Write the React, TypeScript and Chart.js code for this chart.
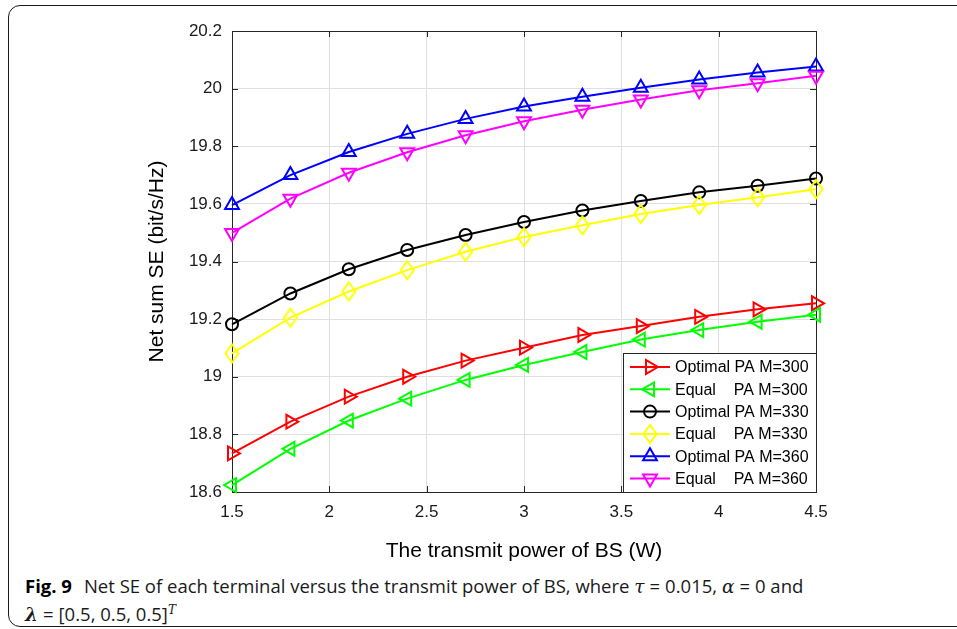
import React, { useEffect, useRef } from 'react';
import { Chart, registerables } from 'chart.js';
import { drawPoint } from 'chart.js/helpers';

Chart.register(...registerables);

// ---- data ----
const powerW = [1.5, 1.8, 2.1, 2.4, 2.7, 3.0, 3.3, 3.6, 3.9, 4.2, 4.5];
const optimalM300 = [18.734, 18.844, 18.931, 19.0, 19.056, 19.101, 19.145, 19.176, 19.208, 19.234, 19.255];
const equalM300 = [18.624, 18.75, 18.848, 18.924, 18.989, 19.041, 19.086, 19.129, 19.162, 19.191, 19.215];
const optimalM330 = [19.182, 19.289, 19.373, 19.44, 19.492, 19.537, 19.577, 19.61, 19.64, 19.663, 19.688];
const equalM330 = [19.081, 19.205, 19.296, 19.37, 19.434, 19.485, 19.526, 19.565, 19.596, 19.623, 19.651];
const optimalM360 = [19.596, 19.7, 19.78, 19.843, 19.895, 19.938, 19.972, 20.003, 20.032, 20.056, 20.077];
const equalM360 = [19.499, 19.618, 19.708, 19.779, 19.838, 19.887, 19.927, 19.962, 19.994, 20.019, 20.045];

const seriesLabels = [
  'Optimal PA M=300',
  'Equal    PA M=300',
  'Optimal PA M=330',
  'Equal    PA M=330',
  'Optimal PA M=360',
  'Equal    PA M=360',
];
const xTickValues = [1.5, 2, 2.5, 3, 3.5, 4, 4.5];
const xTickLabels = ['1.5', '2', '2.5', '3', '3.5', '4', '4.5'];
const yTickValues = [18.6, 18.8, 19, 19.2, 19.4, 19.6, 19.8, 20, 20.2];
const yTickLabels = ['18.6', '18.8', '19', '19.2', '19.4', '19.6', '19.8', '20', '20.2'];
const xTitle = 'The transmit power of BS (W)';
const yTitle = 'Net sum SE (bit/s/Hz)';

// ---- styles ----
const seriesValues = [optimalM300, equalM300, optimalM330, equalM330, optimalM360, equalM360];
const seriesColors = ['#ff0000', '#00ff00', '#000000', '#ffff00', '#0000ff', '#ff00ff'];

function makeDiamond(color: string): HTMLCanvasElement {
  const c = document.createElement('canvas');
  c.width = 18;
  c.height = 22;
  const g = c.getContext('2d')!;
  g.strokeStyle = color;
  g.lineWidth = 2;
  g.beginPath();
  g.moveTo(9, 2);
  g.lineTo(15.5, 11);
  g.lineTo(9, 20);
  g.lineTo(2.5, 11);
  g.closePath();
  g.stroke();
  return c;
}

const seriesMarkers: { style: any; rotation: number; radius: number }[] = [
  { style: 'triangle', rotation: 90, radius: 8 },
  { style: 'triangle', rotation: -90, radius: 8 },
  { style: 'circle', rotation: 0, radius: 6 },
  { style: 'diamond', rotation: 0, radius: 7 },
  { style: 'triangle', rotation: 0, radius: 8 },
  { style: 'triangle', rotation: 180, radius: 8 },
];

const AXIS_COLOR = '#262626';
const FONT = '"Liberation Sans", Arial, Helvetica, sans-serif';

const matlabAxes = {
  id: 'matlabAxes',
  beforeDatasetsDraw(chart: any) {
    const { ctx, chartArea: a, scales } = chart;
    const x = scales.x;
    const y = scales.y;
    const tl = 6;
    ctx.save();
    ctx.strokeStyle = AXIS_COLOR;
    ctx.lineWidth = 1;
    ctx.beginPath();
    for (const v of xTickValues) {
      const px = Math.round(x.getPixelForValue(v)) + 0.5;
      ctx.moveTo(px, a.bottom);
      ctx.lineTo(px, a.bottom - tl);
      ctx.moveTo(px, a.top);
      ctx.lineTo(px, a.top + tl);
    }
    for (const v of yTickValues) {
      const py = Math.round(y.getPixelForValue(v)) + 0.5;
      ctx.moveTo(a.left, py);
      ctx.lineTo(a.left + tl, py);
      ctx.moveTo(a.right, py);
      ctx.lineTo(a.right - tl, py);
    }
    ctx.stroke();
    ctx.strokeRect(Math.round(a.left) + 0.5, Math.round(a.top) + 0.5, Math.round(a.right - a.left), Math.round(a.bottom - a.top));
    ctx.restore();
  },
  afterDatasetsDraw(chart: any) {
    const { ctx, chartArea: a } = chart;
    const w = 193;
    const h = 139;
    const bx = Math.round(a.right) - w;
    const by = Math.round(a.bottom) - h;
    ctx.save();
    ctx.fillStyle = '#ffffff';
    ctx.fillRect(bx, by, w, h);
    ctx.strokeStyle = AXIS_COLOR;
    ctx.lineWidth = 1;
    ctx.strokeRect(bx + 0.5, by + 0.5, w, h);
    chart.data.datasets.forEach((ds: any, i: number) => {
      const cy = by + 14 + i * 22.3;
      ctx.strokeStyle = ds.borderColor;
      ctx.lineWidth = 2;
      ctx.beginPath();
      ctx.moveTo(bx + 7, cy);
      ctx.lineTo(bx + 47, cy);
      ctx.stroke();
      ctx.fillStyle = 'rgba(0,0,0,0)';
      drawPoint(ctx, {
        pointStyle: ds.pointStyle,
        rotation: ds.pointRotation,
        radius: ds.pointRadius,
        borderWidth: 2,
      } as any, bx + 27, cy);
      ctx.fillStyle = '#000000';
      ctx.font = '16px ' + FONT;
      ctx.textBaseline = 'middle';
      ctx.textAlign = 'left';
      ctx.fillText(ds.label, bx + 52, cy + 1);
    });
    ctx.restore();
  },
};

function ChartCanvas() {
  const ref = useRef<HTMLCanvasElement | null>(null);
  useEffect(() => {
    if (!ref.current) return;
    const datasets = seriesValues.map((vals, i) => ({
      label: seriesLabels[i],
      data: powerW.map((p, j) => ({ x: p, y: vals[j] })),
      borderColor: seriesColors[i],
      backgroundColor: seriesColors[i],
      borderWidth: 2,
      pointStyle: seriesMarkers[i].style === 'diamond' ? makeDiamond(seriesColors[i]) : seriesMarkers[i].style,
      pointRotation: seriesMarkers[i].rotation,
      pointRadius: seriesMarkers[i].radius,
      pointBorderColor: seriesColors[i],
      pointBackgroundColor: 'rgba(0,0,0,0)',
      pointBorderWidth: 2,
      tension: 0,
      clip: false as any,
      order: seriesValues.length - 1 - i,
    }));
    const chart = new Chart(ref.current, {
      type: 'line',
      data: { datasets: datasets as any },
      options: {
        animation: false,
        responsive: false,
        events: [],
        layout: { padding: { left: 145, top: 31, right: 141, bottom: 6 } },
        plugins: { legend: { display: false }, tooltip: { enabled: false } },
        scales: {
          x: {
            type: 'linear',
            min: 1.5,
            max: 4.5,
            afterBuildTicks: (s: any) => {
              s.ticks = xTickValues.map((v) => ({ value: v }));
            },
            afterFit: (s: any) => {
              s.height = 72;
            },
            ticks: {
              autoSkip: false,
              maxRotation: 0,
              padding: 10,
              color: '#1a1a1a',
              font: { family: FONT, size: 17 },
              callback: (v: any) => xTickLabels[xTickValues.indexOf(v)] ?? '',
            },
            grid: { color: '#dfdfdf', lineWidth: 1, drawTicks: false },
            border: { display: false },
            title: {
              display: true,
              text: xTitle,
              color: '#000000',
              padding: 0,
              font: { family: FONT, size: 21 },
            },
          },
          y: {
            type: 'linear',
            min: 18.6,
            max: 20.2,
            afterBuildTicks: (s: any) => {
              s.ticks = yTickValues.map((v) => ({ value: v }));
            },
            afterFit: (s: any) => {
              s.width = 87;
            },
            ticks: {
              autoSkip: false,
              padding: 10,
              color: '#1a1a1a',
              font: { family: FONT, size: 17 },
              callback: (v: any) => yTickLabels[yTickValues.indexOf(v)] ?? '',
            },
            grid: { color: '#dfdfdf', lineWidth: 1, drawTicks: false },
            border: { display: false },
            title: {
              display: true,
              text: yTitle,
              color: '#000000',
              padding: 0,
              font: { family: FONT, size: 21 },
            },
          },
        },
      },
      plugins: [matlabAxes],
    });
    return () => chart.destroy();
  }, []);
  return (
    <canvas
      ref={ref}
      width={957}
      height={570}
      style={{ position: 'absolute', left: 0, top: 0, width: 957, height: 570 }}
    />
  );
}

const mathFont = '"DejaVu Serif", "Liberation Serif", serif';
const eq = <span style={{ margin: '0 5px' }}>=</span>;

export default function App() {
  return (
    <div
      style={{
        position: 'fixed',
        left: 0,
        top: 0,
        width: 957,
        height: 629,
        overflow: 'hidden',
        background: '#ffffff',
      }}
    >
      <div
        style={{
          position: 'absolute',
          left: 8,
          top: 5,
          width: 1000,
          height: 622,
          border: '1.5px solid #1a1a1a',
          borderRadius: 12,
          boxSizing: 'border-box',
        }}
      />
      <ChartCanvas />
      <div
        style={{
          position: 'absolute',
          left: 25,
          top: 572,
          fontFamily: '"Open Sans", "Noto Sans", sans-serif',
          fontSize: 18.5,
          lineHeight: '27px',
          color: '#1a1a1a',
          whiteSpace: 'nowrap',
        }}
      >
        <div>
          <b style={{ color: '#000' }}>Fig. 9</b>
          <span style={{ marginLeft: 12 }}>
            Net SE of each terminal versus the transmit power of BS, where{' '}
            <i style={{ fontFamily: mathFont }}>τ</i>
            {eq}0.015,{' '}
            <i style={{ fontFamily: mathFont }}>α</i>
            {eq}0 and
          </span>
        </div>
        <div>
          <b>
            <i style={{ fontFamily: mathFont }}>λ</i>
          </b>
          {eq}[0.5, 0.5, 0.5]
          <sup style={{ fontSize: 12, lineHeight: 0, fontStyle: 'italic', fontFamily: mathFont }}>T</sup>
        </div>
      </div>
    </div>
  );
}
